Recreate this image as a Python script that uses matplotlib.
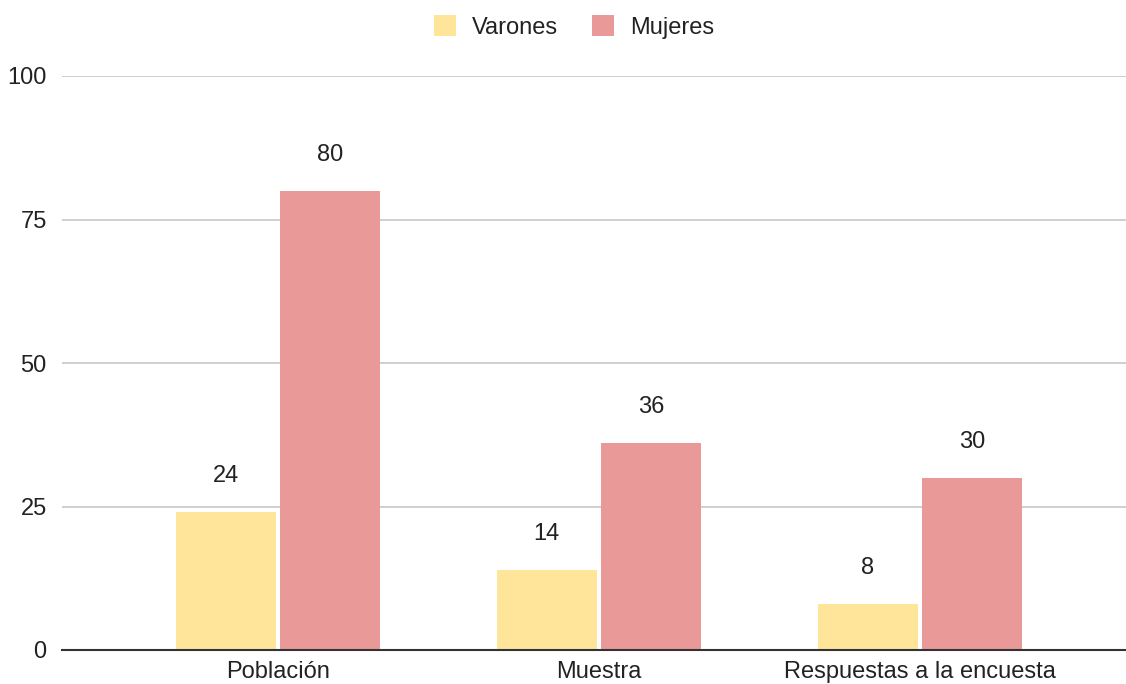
import matplotlib
matplotlib.use("Agg")
import matplotlib.pyplot as plt
from matplotlib.patches import Rectangle
import numpy as np

categories = ["Población", "Muestra", "Respuestas a la encuesta"]
varones = [24, 14, 8]
mujeres = [80, 36, 30]
series_names = ["Varones", "Mujeres"]
yticks = [0, 25, 50, 75, 100]

col_v = "#FFE599"
col_m = "#EA9999"
txt = "#222222"
fs = 17

plt.rcParams["font.family"] = ["Liberation Sans", "DejaVu Sans"]

fig = plt.figure(figsize=(11.26, 6.84), dpi=100)
ax = fig.add_axes([62 / 1126, 34 / 684, 1064 / 1126, 574 / 684])

x = np.arange(len(categories))
w = 0.311
off = 0.163
bv = ax.bar(x - off, varones, width=w, color=col_v, zorder=3)
bm = ax.bar(x + off, mujeres, width=w, color=col_m, zorder=3)

for bars, vals in ((bv, varones), (bm, mujeres)):
    for b, v in zip(bars, vals):
        ax.annotate(str(v), (b.get_x() + b.get_width() / 2, v),
                    xytext=(0, 21.6), textcoords="offset points",
                    ha="center", va="baseline", fontsize=fs, color=txt)

ax.set_ylim(0, 100)
ax.set_xlim(-0.673, 2.642)
ax.set_yticks(yticks)
ax.set_yticklabels([str(t) for t in yticks])
ax.set_xticks(x)
ax.set_xticklabels(categories)
ax.tick_params(axis="both", length=0, labelsize=fs, colors=txt)
ax.tick_params(axis="y", pad=11)
ax.tick_params(axis="x", pad=8)

ax.yaxis.grid(True, color="#CCCCCC", linewidth=1.3, zorder=0)
ax.set_axisbelow(True)
for s in ("top", "right", "left"):
    ax.spines[s].set_visible(False)
ax.spines["bottom"].set_color("#333333")
ax.spines["bottom"].set_linewidth(1.5)
ax.spines["bottom"].set_zorder(4)

handles = [Rectangle((0, 0), 1, 1, facecolor=col_v), Rectangle((0, 0), 1, 1, facecolor=col_m)]
leg = fig.legend(handles, series_names, loc="center", bbox_to_anchor=(574 / 1126, 1 - 27 / 684),
                 ncol=2, frameon=False, fontsize=fs, handlelength=0.95, handleheight=0.95,
                 handletextpad=0.68, columnspacing=1.4)
for t in leg.get_texts():
    t.set_color(txt)

fig.savefig("out.png", dpi=100, facecolor="white")
